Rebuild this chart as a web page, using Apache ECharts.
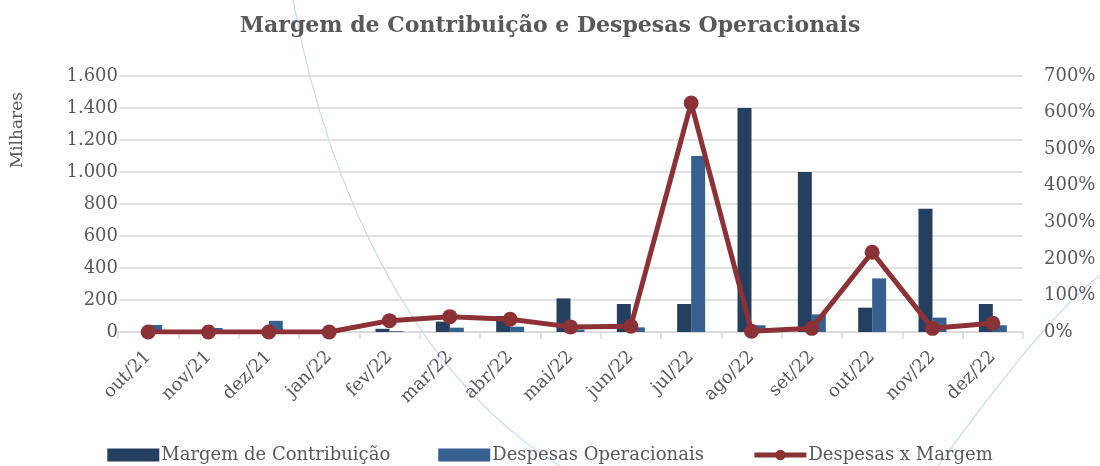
<!DOCTYPE html>
<html><head><meta charset="utf-8">
<script src="https://cdn.jsdelivr.net/npm/echarts@6/dist/echarts.min.js"></script>
<style>html,body{margin:0;padding:0;background:#fff}#c{width:1100px;height:466px}</style>
</head><body><div id="c"></div>
<script>
const categories = ['out/21','nov/21','dez/21','jan/22','fev/22','mar/22','abr/22','mai/22','jun/22','jul/22','ago/22','set/22','out/22','nov/22','dez/22'];
const margem = [0, 0, 0, 0, 20, 65, 100, 210, 175, 175, 1400, 1000, 152, 770, 175];
const despesas = [44, 25, 70, 0, 5, 27, 33, 15, 29, 1100, 42, 110, 335, 90, 42];
const ratio = [0, 0, 0, 0, 31, 42, 35, 14, 16, 626, 2, 10, 218, 10, 24];
const leftTicks = {min: 0, max: 1600, interval: 200};
const rightTicks = {min: 0, max: 700, interval: 100};

const FONT = '"DejaVu Serif", "Liberation Serif", serif';
const GREY = '#595959';
const DECO = '#C5DDEB';
const chart = echarts.init(document.getElementById('c'));
chart.setOption({
  animation: false,
  textStyle: {fontFamily: FONT},
  title: {text: 'Margem de Contribuição e Despesas Operacionais', left: 'center', top: 10,
    textStyle: {fontFamily: FONT, fontSize: 22, fontWeight: 'bold', color: GREY}},
  grid: {left: 118, right: 77, top: 76, bottom: 134},
  legend: {top: 441, left: 'center', itemGap: 48, itemWidth: 52, itemHeight: 13,
    textStyle: {fontFamily: FONT, fontSize: 18, color: GREY, padding: [0,0,0,-3]},
    data: [{name:'Margem de Contribuição', icon:'rect'}, {name:'Despesas Operacionais', icon:'rect'},
           {name:'Despesas x Margem', lineStyle: {width: 5}}]},
  graphic: [
    {type: 'bezierCurve', z: -10, silent: true,
     shape: {x1: 293, y1: 0, cpx1: 330, cpy1: 200, cpx2: 420, cpy2: 380, x2: 560, y2: 466},
     style: {stroke: DECO, lineWidth: 1.2, fill: null}},
    {type: 'bezierCurve', z: -10, silent: true,
     shape: {x1: 1100, y1: 275, cpx1: 1050, cpy1: 315, cpx2: 990, cpy2: 395, x2: 938, y2: 466},
     style: {stroke: DECO, lineWidth: 1.2, fill: null}},
    {type: 'text', left: 9, top: 92, rotation: Math.PI/2,
     style: {text: 'Milhares', font: '17px ' + FONT, fill: GREY}}],
  xAxis: {type: 'category', data: categories, boundaryGap: true,
    axisLine: {lineStyle: {color: '#D9D9D9', width: 1.5}},
    axisTick: {show: true, length: 7, lineStyle: {color: '#D9D9D9', width: 1.5}},
    axisLabel: {rotate: 45, fontFamily: FONT, fontSize: 18, color: GREY, margin: 22, interval: 0}},
  yAxis: [
    {type: 'value', min: leftTicks.min, max: leftTicks.max, interval: leftTicks.interval,
     axisLine: {show: false}, axisTick: {show: false},
     splitLine: {lineStyle: {color: '#D9D9D9', width: 1.5}},
     axisLabel: {fontFamily: FONT, fontSize: 18, color: GREY, margin: 0, width: 52, align: 'right',
       formatter: v => v.toLocaleString('de-DE')}},
    {type: 'value', min: rightTicks.min, max: rightTicks.max, interval: rightTicks.interval,
     axisLine: {show: false}, axisTick: {show: false}, splitLine: {show: false},
     axisLabel: {fontFamily: FONT, fontSize: 18, color: GREY, margin: 21, formatter: v => v + '%'}}
  ],
  series: [
    {name: 'Margem de Contribuição', type: 'bar', data: margem, barWidth: 14, barGap: '0%',
     itemStyle: {color: '#253F5F'}},
    {name: 'Despesas Operacionais', type: 'bar', data: despesas, barWidth: 14, barGap: '0%',
     itemStyle: {color: '#36608F'}},
    {name: 'Despesas x Margem', type: 'line', yAxisIndex: 1, data: ratio,
     symbol: 'circle', symbolSize: 15, lineStyle: {color: '#8C3135', width: 5},
     itemStyle: {color: '#8C3135'}, z: 5}
  ]
});
</script></body></html>
